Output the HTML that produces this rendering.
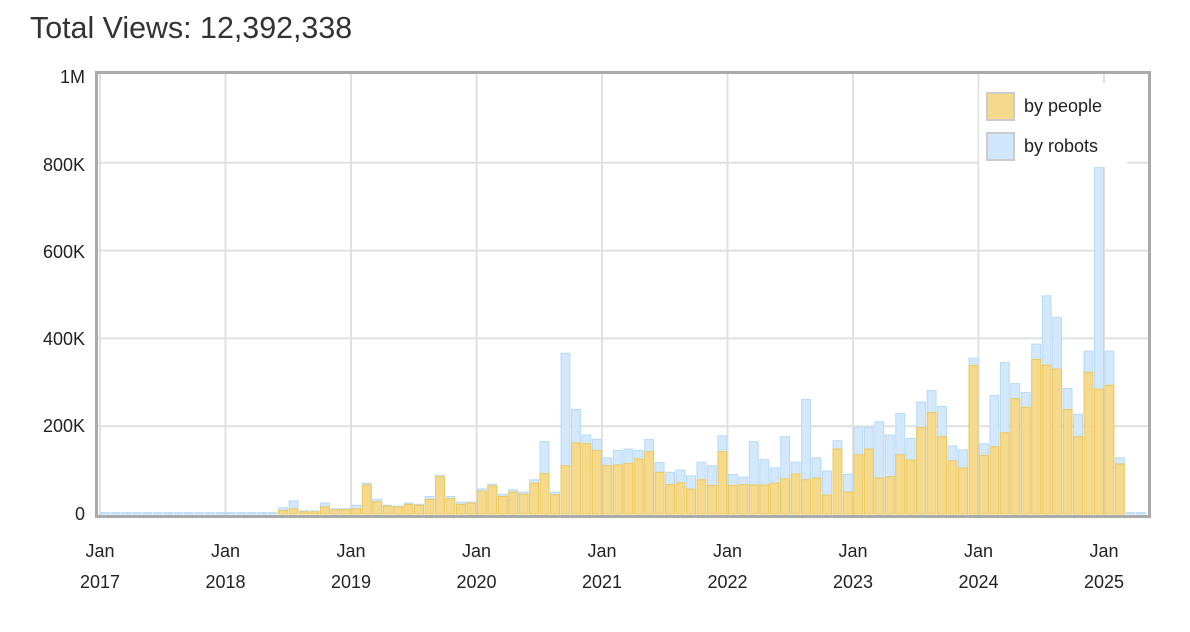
<!DOCTYPE html>
<html><head><meta charset="utf-8"><style>
html,body{margin:0;padding:0;background:#fff;}
svg{display:block;font-family:"Liberation Sans",Arial,sans-serif;}
</style></head><body>
<svg id="c" width="1190" height="632" viewBox="0 0 1190 632" xmlns="http://www.w3.org/2000/svg">
<text x="30" y="38" font-size="30.4" fill="#333">Total Views: 12,392,338</text>
<g id="grid" stroke="#e0e0e0" stroke-width="2"></g>
<g id="bars"></g>
<rect x="96.5" y="72.5" width="1053" height="444" fill="none" stroke="#aaa" stroke-width="3"/>
<g font-size="18" fill="#222" text-anchor="end">
<text x="85" y="83">1M</text>
<text x="85" y="171">800K</text>
<text x="85" y="258">600K</text>
<text x="85" y="345">400K</text>
<text x="85" y="432">200K</text>
<text x="85" y="520">0</text>
</g>
<g id="xl" font-size="18" fill="#222" text-anchor="middle"></g>
<rect x="979" y="83" width="148" height="84" fill="#fff"/>
<rect x="987" y="93" width="27" height="27" fill="#f5d98c" stroke="#ccc" stroke-width="2"/>
<rect x="987" y="133" width="27" height="27" fill="#cfe6fb" stroke="#ccc" stroke-width="2"/>
<text x="1024" y="112" font-size="18" fill="#222">by people</text>
<text x="1024" y="152" font-size="18" fill="#222">by robots</text>
</svg>
<script>
var ns="http://www.w3.org/2000/svg";
function el(t,a,p){var e=document.createElementNS(ns,t);for(var k in a)e.setAttribute(k,a[k]);p.appendChild(e);return e;}
var g=document.getElementById('grid'),b=document.getElementById('bars'),xl=document.getElementById('xl');
var y0=514,sc=0.439;
[200,400,600,800].forEach(function(v){var y=y0-v*sc;el('line',{x1:98,x2:1148,y1:y,y2:y},g);});
for(var i=0;i<9;i++){var x=100+i*125.5;el('line',{x1:x,x2:x,y1:74,y2:515},g);
var t=el('text',{x:x,y:557},xl);t.textContent='Jan';var t2=el('text',{x:x,y:588},xl);t2.textContent=String(2017+i);}
var d=[];
for(var m=0;m<17;m++)d.push([0,3]);
var a=[[8,14],[12,30],[5,7],[5,7],[16,25],[10,12],[10,12],[12,20],[66,70],[28,33],[18,20],[16,18],[22,25],[20,22],[33,40],[85,88],[35,40],[22,27],[25,27],[52,57],[64,68],[40,45],[50,55],[45,50],[70,78],[92,165],[44,50],[110,366],[162,238],[160,180],[145,170],[110,128],
[112,145],
[115,148],[125,145],[142,170],[95,117],[67,95],[71,100],[57,87],[78,118],[65,110],[142,178],[65,90],[67,84],[66,165],[66,124],[70,105],[80,176],[91,118],[78,261],[82,128],[43,98],[148,167],[50,90],[135,197],[148,197],[82,210],[85,180],[135,229],[123,172],[197,255],[231,281],[176,245],[121,155],[105,146],[338,355],[133,160],[153,270],[185,345],[263,297],[243,277],[352,387],[339,497],[330,448],[238,286],[176,227],[323,371],[284,790],[293,371],[114,128],[0,3],[0,3]];
d=d.concat(a);
d.forEach(function(v,m){var x=100+m*10.46+0.8,w=8.9;
var ht=v[1]*sc,hp=v[0]*sc;
if(ht>0)el('rect',{x:x,y:y0-ht,width:w,height:ht,fill:'#d3e8fb',stroke:'#b8daf6','stroke-width':1},b);
if(hp>0)el('rect',{x:x,y:y0-hp,width:w,height:hp,fill:'#f5d98c',stroke:'#ecc95e','stroke-width':1},b);
});
</script>
</body></html>
